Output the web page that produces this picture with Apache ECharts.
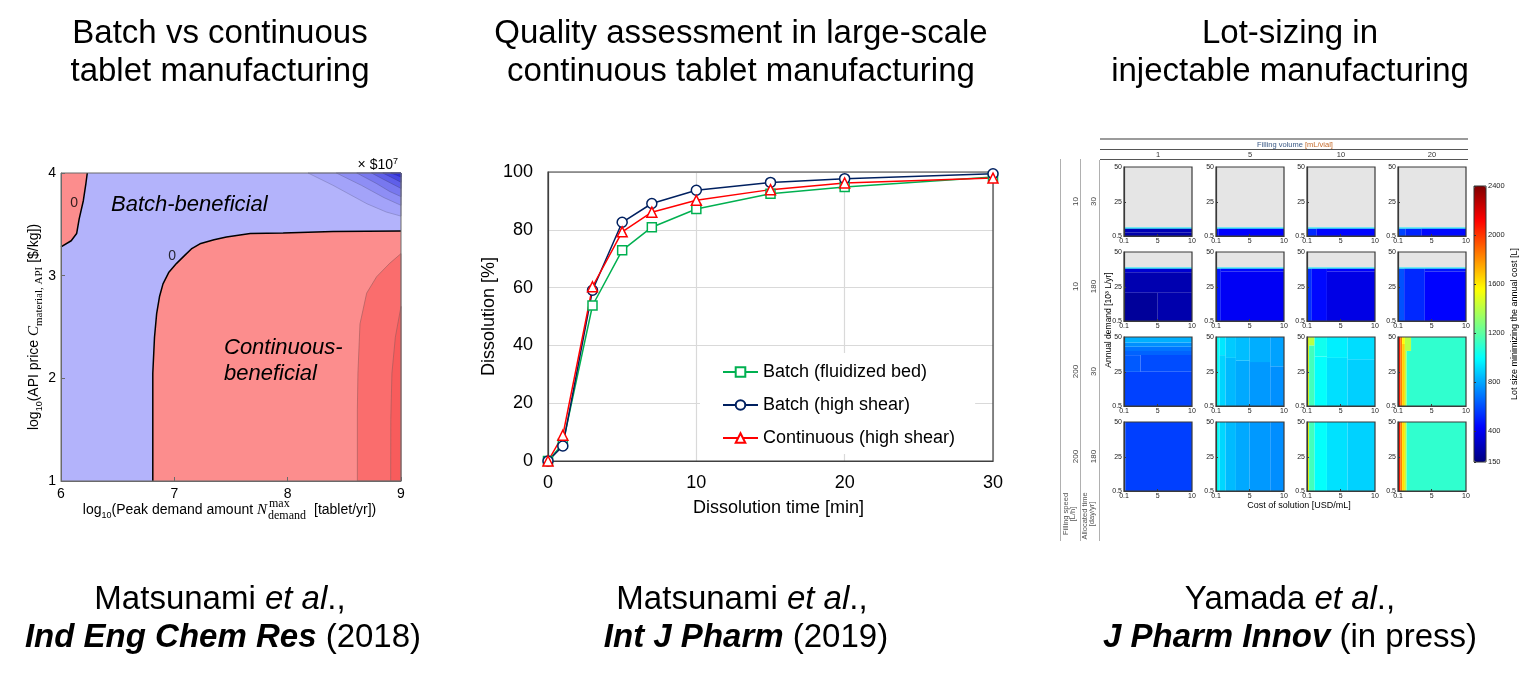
<!DOCTYPE html>
<html><head><meta charset="utf-8">
<script src="https://cdn.jsdelivr.net/npm/echarts@6/dist/echarts.min.js"></script>
<style>html,body{margin:0;padding:0;background:#fff}#c{width:1524px;height:679px}</style>
</head><body><div id="c"></div><script>
// ---------- Panel 1: batch vs continuous contour map (x: log10 N, y: log10 C) ----------
const p1XTicks = [6, 7, 8, 9];
const p1YTicks = [1, 2, 3, 4];
const regionBatch = [[6,1],[9,1],[9,4],[6,4]];
const blueLevel1 = [[8.18,4],[8.40,3.88],[8.70,3.70],[8.87,3.62],[9,3.58],[9,4]];
const blueLevel2 = [[8.43,4],[8.65,3.88],[8.85,3.76],[9,3.685],[9,4]];
const blueLevel3 = [[8.61,4],[8.78,3.90],[8.90,3.82],[9,3.77],[9,4]];
const blueLevel4 = [[8.74,4],[8.86,3.93],[9,3.85],[9,4]];
const blueLevel5 = [[8.84,4],[8.93,3.95],[9,3.91],[9,4]];
const blueLevel6 = [[8.91,4],[8.96,3.98],[9,3.96],[9,4]];
const zeroTopLeft = [[6.232,4],[6.22,3.9],[6.197,3.73],[6.16,3.55],[6.138,3.41],[6.09,3.34],[6,3.28]];
const zeroMain = [[6.81,1],[6.81,1.7],[6.81,2.05],[6.825,2.4],[6.844,2.63],[6.87,2.8],[6.90,2.92],[6.95,3.03],[7.02,3.12],[7.094,3.2],[7.15,3.26],[7.226,3.31],[7.35,3.35],[7.46,3.377],[7.67,3.41],[7.96,3.416],[8.4,3.43],[9,3.435]];
const redLevel2 = [[8.615,1],[8.615,1.7],[8.62,2.05],[8.638,2.53],[8.697,2.83],[8.785,2.99],[8.90,3.12],[9,3.215],[9,1]];
const redLevel3 = [[8.909,1],[8.91,1.6],[8.92,2.05],[8.95,2.4],[9,2.70],[9,1]];
const zeroLabels = [[6.115,3.71],[6.98,3.19]];

// ---------- Panel 2: dissolution profiles ----------
const dissolutionTime = [0, 1, 3, 5, 7, 10, 15, 20, 30];
const batchFluidized = [0, 6, 53.8, 72.9, 80.9, 87.2, 92.5, 94.8, 98.3];
const batchHighShear = [0, 5.2, 59.1, 82.6, 89.1, 93.7, 96.4, 97.7, 99.4];
const contHighShear = [0, 8.9, 60.3, 79.3, 86.1, 90.2, 93.9, 96.2, 97.9];
const p2XTicks = [0, 10, 20, 30];
const p2YTicks = [0, 20, 40, 60, 80, 100];

// ---------- Panel 3: lot-size maps, cells [cost0, cost1, demand0, demand1, lotSize] ----------
const fillingVolumes = ['1', '5', '10', '20'];
const fillingSpeeds = ['10', '10', '200', '200'];
const allocatedTimes = ['30', '180', '30', '180'];
const costTicks = [0.1, 5, 10];
const demandTicks = [0.5, 25, 50];
const colorbarTicks = [150, 400, 800, 1200, 1600, 2000, 2400];
const lot_10_30_v1 = [[0.1,10,0.5,3,245],[0.1,10,3,5.8,270],[0.1,10,5.8,6.6,960]];
const lot_10_30_v5 = [[0.1,0.5,0.5,5.8,470],[0.5,10,0.5,5.8,430],[0.1,10,5.8,6.6,960]];
const lot_10_30_v10 = [[0.1,1.5,0.5,5.8,520],[1.5,10,0.5,5.8,440],[0.1,10,5.8,6.6,960]];
const lot_10_30_v20 = [[0.1,1.2,0.5,5.8,580],[1.2,3.5,0.5,5.8,510],[3.5,10,0.5,5.8,450],[0.1,10,5.8,6.6,960]];
const lot_10_180_v1 = [[0.1,5,0.5,20.8,210],[5,10,0.5,20.8,250],[0.1,10,20.8,35.5,258],[0.1,10,35.5,38.1,330],[0.1,10,38.1,38.9,960]];
const lot_10_180_v5 = [[0.1,0.8,0.5,38.1,480],[0.8,10,0.5,36,410],[0.8,10,36,38.1,450],[0.1,10,38.1,38.9,960]];
const lot_10_180_v10 = [[0.1,0.8,0.5,38.1,540],[0.8,3,0.5,38.1,450],[3,10,0.5,36,375],[3,10,36,38.1,430],[0.1,10,38.1,38.9,960]];
const lot_10_180_v20 = [[0.1,1,0.5,38.1,610],[1,4,0.5,38.1,520],[4,10,0.5,36,435],[4,10,36,38.1,475],[0.1,10,38.1,38.9,960]];
const lot_200_30_v1 = [[0.1,10,0.5,25,575],[0.1,2.5,25,37,630],[2.5,10,25,37,600],[0.1,10,37,40,650],[0.1,10,40,43,690],[0.1,10,43,46,750],[0.1,10,46,50,820]];
const lot_200_30_v5 = [[0.1,0.6,0.5,50,1010],[0.6,1.5,0.5,37,900],[1.5,3,0.5,35,840],[3,5,0.5,33,805],[5,8,0.5,32,770],[8,10,0.5,29,750],[0.6,1.5,37,50,940],[1.5,3,35,50,880],[3,5,33,50,850],[5,8,32,50,815],[8,10,29,50,790]];
const lot_200_30_v10 = [[0.1,0.4,0.5,50,1500],[0.4,1.2,0.5,44,1140],[0.4,1.2,44,50,1400],[1.2,3,0.5,36,1000],[3,6,0.5,35,925],[6,10,0.5,34,890],[1.2,3,36,50,1030],[3,6,35,50,960],[6,10,34,50,920]];
const lot_200_30_v20 = [[0.1,0.45,0.5,50,2070],[0.45,0.7,0.5,50,1840],[0.7,1.1,0.5,45,1650],[0.7,1.1,45,50,1560],[1.1,1.35,0.5,40,1420],[1.1,2,40,50,1400],[1.35,10,0.5,40,1100],[2,10,40,50,1100]];
const lot_200_180_v1 = [[0.1,0.3,0.5,50,620],[0.3,10,0.5,50,570]];
const lot_200_180_v5 = [[0.1,0.6,0.5,50,1010],[0.6,1.5,0.5,50,905],[1.5,3,0.5,50,845],[3,5,0.5,50,805],[5,8,0.5,50,770],[8,10,0.5,50,745]];
const lot_200_180_v10 = [[0.1,0.4,0.5,50,1520],[0.4,1.2,0.5,50,1140],[1.2,3,0.5,50,1000],[3,6,0.5,50,930],[6,10,0.5,50,895]];
const lot_200_180_v20 = [[0.1,0.45,0.5,50,2070],[0.45,0.7,0.5,50,1840],[0.7,1.1,0.5,50,1620],[1.1,1.35,0.5,50,1420],[1.35,10,0.5,50,1100]];
const lotPanels = [
  [lot_10_30_v1, lot_10_30_v5, lot_10_30_v10, lot_10_30_v20],
  [lot_10_180_v1, lot_10_180_v5, lot_10_180_v10, lot_10_180_v20],
  [lot_200_30_v1, lot_200_30_v5, lot_200_30_v10, lot_200_30_v20],
  [lot_200_180_v1, lot_200_180_v5, lot_200_180_v10, lot_200_180_v20]
];
const feasibleRows = [false, false, true, true];

// ---------------- build ----------------
const FONT = '"Liberation Sans", Arial, sans-serif';
const SERIF = '"Liberation Serif", "Times New Roman", serif';
const chart = echarts.init(document.getElementById('c'));
const grid = [], xAxis = [], yAxis = [], series = [], graphic = [];

// Panel 1
grid.push({left: 61, top: 173, width: 340, height: 308, show: true, z: 10, borderColor: '#6a6a6a', borderWidth: 1, backgroundColor: 'transparent'});
xAxis.push({type: 'value', gridIndex: 0, min: 6, max: 9, interval: 1, z: 10,
  axisLine: {lineStyle: {color: '#6a6a6a'}}, axisTick: {inside: true, length: 4, lineStyle: {color: '#6a6a6a'}},
  axisLabel: {customValues: p1XTicks, color: '#000', fontSize: 14, fontFamily: FONT, margin: 6}, splitLine: {show: false}});
yAxis.push({type: 'value', gridIndex: 0, min: 1, max: 4, interval: 1, z: 10,
  axisLine: {lineStyle: {color: '#6a6a6a'}}, axisTick: {inside: true, length: 4, lineStyle: {color: '#6a6a6a'}},
  axisLabel: {customValues: p1YTicks, color: '#000', fontSize: 14, fontFamily: FONT, margin: 5}, splitLine: {show: false},
  name: '{n|log}{s|10}{n|(API price }{i|C}{ss|material, API}{n| [$/kg])}', nameLocation: 'middle', nameGap: 9, nameRotate: 90,
  nameTextStyle: {rich: {
    n: {fontSize: 14, fontFamily: FONT, color: '#000', lineHeight: 20},
    s: {fontSize: 9, fontFamily: FONT, color: '#000', verticalAlign: 'bottom', lineHeight: 12},
    i: {fontSize: 15, fontFamily: SERIF, fontStyle: 'italic', color: '#000', lineHeight: 20},
    ss: {fontSize: 11, fontFamily: SERIF, color: '#000', verticalAlign: 'bottom', lineHeight: 12}
  }}});
const p1Regions = [regionBatch, blueLevel1, blueLevel2, blueLevel3, blueLevel4, blueLevel5, blueLevel6,
  zeroTopLeft.concat([[6,4]]), zeroMain.concat([[9,1]]), redLevel2, redLevel3];
const p1Fills = ['#b3b3fb', '#a3a3f9', '#8e8ef5', '#7878ef', '#5f5fe9', '#4545e4', '#2b2be0', '#fc8d8d', '#fc8d8d', '#fa6d6d', '#f85c5c'];
const p1Strokes = [null, '#7c7cb8', '#7070b0', '#6060a8', '#5050a0', '#404098', '#303090', null, null, '#9a5a5a', '#9a5a5a'];
series.push({type: 'custom', xAxisIndex: 0, yAxisIndex: 0, silent: true,
  data: p1Regions.map((r, i) => [i]),
  renderItem: function (params, api) {
    const i = api.value(0);
    const pts = p1Regions[i].map(p => api.coord(p));
    return {type: 'polygon', shape: {points: pts}, style: {fill: p1Fills[i], stroke: p1Strokes[i] || 'none', lineWidth: 0.6}};
  }});
[zeroTopLeft, zeroMain].forEach(line => series.push({type: 'line', xAxisIndex: 0, yAxisIndex: 0, data: line, symbol: 'none', silent: true,
  lineStyle: {color: '#000', width: 1.5}, z: 5}));
series.push({type: 'scatter', xAxisIndex: 0, yAxisIndex: 0, data: zeroLabels, symbolSize: 0, silent: true, z: 6,
  label: {show: true, position: 'inside', formatter: '0', fontSize: 14, fontFamily: FONT, color: '#000'}});

// Panel 2
grid.push({left: 548, top: 172, width: 445, height: 289, show: true, z: 3, borderColor: '#404040', borderWidth: 1.2, backgroundColor: 'transparent'});
xAxis.push({type: 'value', gridIndex: 1, min: 0, max: 30, interval: 10,
  axisLine: {lineStyle: {color: '#404040', width: 1.2}}, axisTick: {show: false},
  axisLabel: {customValues: p2XTicks, color: '#000', fontSize: 18, fontFamily: FONT, margin: 13},
  splitLine: {show: true, lineStyle: {color: '#d9d9d9', width: 1.2}},
  name: 'Dissolution time [min]', nameLocation: 'middle', nameGap: 38,
  nameTextStyle: {fontSize: 18, fontFamily: FONT, color: '#000', padding: [0, 0, 0, 16]}});
yAxis.push({type: 'value', gridIndex: 1, min: 0, max: 100, interval: 20,
  axisLine: {lineStyle: {color: '#404040', width: 1.2}}, axisTick: {show: false},
  axisLabel: {customValues: p2YTicks, color: '#000', fontSize: 18, fontFamily: FONT, margin: 15},
  splitLine: {show: true, lineStyle: {color: '#d9d9d9', width: 1.2}},
  name: 'Dissolution [%]', nameLocation: 'middle', nameGap: 50,
  nameTextStyle: {fontSize: 18, fontFamily: FONT, color: '#000'}});
const p2Series = [
  {name: 'Batch (fluidized bed)', values: batchFluidized, color: '#00b050', symbol: 'rect', size: 9},
  {name: 'Batch (high shear)', values: batchHighShear, color: '#002060', symbol: 'circle', size: 10},
  {name: 'Continuous (high shear)', values: contHighShear, color: '#ff0000', symbol: 'triangle', size: 10}
];
p2Series.forEach(s => series.push({type: 'line', name: s.name, xAxisIndex: 1, yAxisIndex: 1,
  data: dissolutionTime.map((t, i) => [t, s.values[i]]), symbol: s.symbol, symbolSize: s.size, showAllSymbol: true,
  lineStyle: {color: s.color, width: 1.5}, itemStyle: {color: '#fff', borderColor: s.color, borderWidth: 1.5},
  clip: false, z: 4}));

// Panel 3 (4x4 small multiples)
const colLefts = [1124, 1216, 1307, 1398];
const rowTops = [167, 252, 337, 422];
const PW = 68, PH = 69;
const lotSeriesIdx = [];
function cellRender(params, api) {
  const a = api.coord([api.value(0), api.value(3)]);
  const b = api.coord([api.value(1), api.value(2)]);
  return {type: 'rect', shape: {x: a[0], y: a[1], width: b[0] - a[0], height: b[1] - a[1]}, style: {fill: api.visual('color')}};
}
for (let r = 0; r < 4; r++) {
  for (let c = 0; c < 4; c++) {
    const gi = grid.length;
    grid.push({left: colLefts[c], top: rowTops[r], width: PW, height: PH, show: true, z: 0,
      borderWidth: 0, backgroundColor: feasibleRows[r] ? 'transparent' : '#e5e5e5'});
    xAxis.push({type: 'value', gridIndex: gi, min: 0.1, max: 10, z: 4,
      axisLine: {lineStyle: {color: '#3a3a3a', width: 1.2}},
      axisTick: {inside: true, length: 2, customValues: [5], lineStyle: {color: '#3a3a3a'}},
      axisLabel: {customValues: costTicks, fontSize: 7, color: '#222', fontFamily: FONT, margin: 2},
      splitLine: {show: false}});
    yAxis.push({type: 'value', gridIndex: gi, min: 0.5, max: 50, z: 4,
      axisLine: {lineStyle: {color: '#3a3a3a', width: 1.2}},
      axisTick: {inside: true, length: 2, customValues: [25], lineStyle: {color: '#3a3a3a'}},
      axisLabel: {customValues: demandTicks, fontSize: 7, color: '#222', fontFamily: FONT, margin: 2},
      splitLine: {show: false}});
    lotSeriesIdx.push(series.length);
    series.push({type: 'custom', xAxisIndex: gi, yAxisIndex: gi, data: lotPanels[r][c], renderItem: cellRender,
      silent: true, encode: {x: [0, 1], y: [2, 3]}, z: 2});
    graphic.push({type: 'rect', silent: true, z: 60, shape: {x: colLefts[c], y: rowTops[r], width: PW, height: PH},
      style: {fill: 'none', stroke: '#3a3a3a', lineWidth: 1.2}});
  }
}
// colorbar axis
const cbi = grid.length;
grid.push({left: 1474, top: 186, width: 12, height: 276, show: false});
xAxis.push({type: 'value', gridIndex: cbi, show: false, min: 0, max: 1});
yAxis.push({type: 'value', gridIndex: cbi, position: 'right', min: 150, max: 2400, z: 10,
  axisLine: {show: false},
  axisTick: {show: true, customValues: colorbarTicks, length: 2, inside: false, lineStyle: {color: '#333'}},
  axisLabel: {customValues: colorbarTicks, fontSize: 7.5, color: '#222', fontFamily: FONT, margin: 2, formatter: v => String(v)},
  splitLine: {show: false},
  name: 'Lot size minimizing the annual cost [L]', nameLocation: 'middle', nameRotate: 90, nameGap: 24,
  nameTextStyle: {fontSize: 9, fontFamily: FONT, color: '#000'}});

// ---------- text & decorations ----------
function T(x, y, text, style, extra) {
  graphic.push(Object.assign({type: 'text', x: x, y: y, silent: true, z: 50,
    style: Object.assign({text: text, fontFamily: FONT, fontSize: 33, fill: '#000', align: 'center', verticalAlign: 'middle'}, style || {})}, extra || {}));
}
function L(x1, y1, x2, y2, color, w) {
  graphic.push({type: 'line', silent: true, z: 40, shape: {x1: x1, y1: y1, x2: x2, y2: y2}, style: {stroke: color, lineWidth: w}});
}
const ital = {fontStyle: 'italic', fontSize: 33, fontFamily: FONT, fill: '#000'};
const boldItal = {fontStyle: 'italic', fontWeight: 'bold', fontSize: 33, fontFamily: FONT, fill: '#000'};
T(220, 34, 'Batch vs continuous'); T(220, 72, 'tablet manufacturing');
T(741, 34, 'Quality assessment in large-scale'); T(741, 72, 'continuous tablet manufacturing');
T(1290, 34, 'Lot-sizing in'); T(1290, 72, 'injectable manufacturing');
T(220, 600, 'Matsunami {i|et al}.,', {rich: {i: ital}});
T(223, 638, '{b|Ind Eng Chem Res} (2018)', {rich: {b: boldItal}});
T(742, 600, 'Matsunami {i|et al}.,', {rich: {i: ital}});
T(746, 638, '{b|Int J Pharm} (2019)', {rich: {b: boldItal}});
T(1290, 600, 'Yamada {i|et al}.,', {rich: {i: ital}});
T(1290, 638, '{b|J Pharm Innov} (in press)', {rich: {b: boldItal}});

// panel 1 annotations
T(111, 205, 'Batch-beneficial', {fontSize: 22, fontStyle: 'italic', align: 'left'});
T(224, 348, 'Continuous-', {fontSize: 22, fontStyle: 'italic', align: 'left'});
T(224, 374, 'beneficial', {fontSize: 22, fontStyle: 'italic', align: 'left'});
T(398, 165, '× $10{sup|7}', {fontSize: 14, align: 'right', rich: {sup: {fontSize: 9, fontFamily: FONT, fill: '#000', verticalAlign: 'top', lineHeight: 16}}});
// panel 1 x-axis title
T(267, 510, 'log{s|10}(Peak demand amount {i|N}', {fontSize: 14, align: 'right', rich: {
  s: {fontSize: 9, fontFamily: FONT, fill: '#000', verticalAlign: 'bottom', lineHeight: 12},
  i: {fontSize: 15, fontFamily: SERIF, fontStyle: 'italic', fill: '#000', lineHeight: 20}}});
T(269, 504, 'max', {fontSize: 12, fontFamily: SERIF, align: 'left'});
T(268, 516, 'demand', {fontSize: 12, fontFamily: SERIF, align: 'left'});
T(314, 510, '[tablet/yr])', {fontSize: 14, align: 'left'});

// panel 3 header and side table
const hdrBlue = '#3b5a86', hdrOrange = '#c46a2a';
L(1100, 139, 1468, 139, '#7a7a7a', 1.6);
L(1100, 149.5, 1468, 149.5, '#555', 1);
L(1100, 159.5, 1468, 159.5, '#555', 1);
L(1060.5, 159, 1060.5, 541, '#b0b0b0', 1);
L(1080.5, 159, 1080.5, 541, '#b0b0b0', 1);
L(1099.5, 160, 1099.5, 541, '#b0b0b0', 1);
T(1295, 144.5, '{b|Filling volume} {o|[mL/vial]}', {fontSize: 7.5, rich: {
  b: {fontSize: 7.5, fontFamily: FONT, fill: hdrBlue}, o: {fontSize: 7.5, fontFamily: FONT, fill: hdrOrange}}});
const colCenters = [1158, 1250, 1341, 1432];
fillingVolumes.forEach((v, i) => T(colCenters[i], 154.5, v, {fontSize: 7.5, fill: '#333'}));
const rowCenters = [201.5, 286.5, 371.5, 456.5];
fillingSpeeds.forEach((v, i) => T(1076, rowCenters[i], v, {fontSize: 8, fill: '#444'}, {rotation: Math.PI / 2}));
allocatedTimes.forEach((v, i) => T(1094, rowCenters[i], v, {fontSize: 8, fill: '#444'}, {rotation: Math.PI / 2}));
T(1066, 514, 'Filling speed', {fontSize: 7.5, fill: '#555'}, {rotation: Math.PI / 2});
T(1073, 514, '[L/h]', {fontSize: 7.5, fill: '#555'}, {rotation: Math.PI / 2});
T(1085, 516, 'Allocated time', {fontSize: 7.5, fill: '#555'}, {rotation: Math.PI / 2});
T(1092, 514, '[day/yr]', {fontSize: 7.5, fill: '#555'}, {rotation: Math.PI / 2});
T(1109, 320, 'Annual demand [10³ L/yr]', {fontSize: 8.5, fill: '#000'}, {rotation: Math.PI / 2});
T(1299, 506, 'Cost of solution [USD/mL]', {fontSize: 9, fill: '#000'});
graphic.push({type: 'rect', silent: true, z: 60, shape: {x: 1474, y: 186, width: 12, height: 276}, style: {fill: 'none', stroke: '#333', lineWidth: 1}});

chart.setOption({
  animation: false,
  backgroundColor: '#fff',
  textStyle: {fontFamily: FONT},
  grid: grid, xAxis: xAxis, yAxis: yAxis, series: series, graphic: graphic,
  legend: {data: p2Series.map(s => s.name), orient: 'vertical', left: 700, top: 353, width: 280,
    padding: [10, 20, 7, 22], itemGap: 15, itemWidth: 35, itemHeight: 12, backgroundColor: '#fff',
    textStyle: {fontSize: 18, fontFamily: FONT, color: '#000'}, selectedMode: false},
  visualMap: {type: 'continuous', min: 150, max: 2400, seriesIndex: lotSeriesIdx, dimension: 4,
    calculable: false, left: 1474, top: 186, itemWidth: 12, itemHeight: 276, padding: 0, text: null, hoverLink: false,
    inRange: {color: ['#00007f', '#0000ff', '#007fff', '#00ffff', '#7fff7f', '#ffff00', '#ff7f00', '#ff0000', '#7f0000']}}
});
</script></body></html>
